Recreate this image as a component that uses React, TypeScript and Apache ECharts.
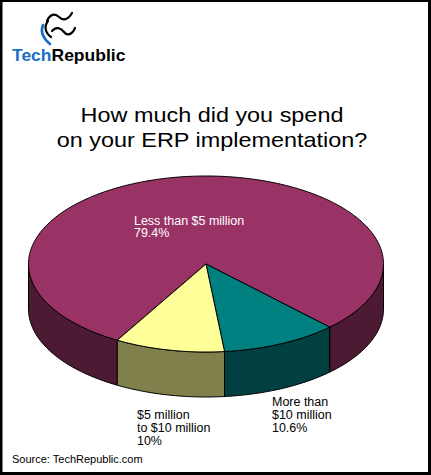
import React, { useEffect, useRef } from 'react';
import * as echarts from 'echarts';

// ---- data ----
const categories = ['Less than $5 million', 'More than $10 million', '$5 million to $10 million'];
const labelLines = [['Less than $5 million'], ['More than', '$10 million'], ['$5 million', 'to $10 million']];
const values = [79.4, 10.6, 10];
const titleLines = ['How much did you spend', 'on your ERP implementation?'];
const sourceText = 'Source: TechRepublic.com';

// ---- styles ----
const topColors = ['#993366', '#008080', '#FFFF99'];
const sideColors = ['#4C1A33', '#004040', '#80804C'];
const FONT = '"Liberation Sans", Arial, Helvetica, sans-serif';
const PIE = { cx: 206, cy: 264, rx: 177.5, ry: 88, depth: 45, start: 120 };
const labelPos = [
  { x: 134, y: 215.5, lh: 12, color: '#ffffff' },
  { x: 272, y: 396, lh: 13, color: '#000000' },
  { x: 137, y: 408.3, lh: 13, color: '#000000' },
];

const WAVE_D =
  'M47,21 C50,14 55,13 59,17 C63,21 68,20 72,13 M48,21 C44,26 45,33 51,37 M52,31 C56,26 61,28 64,32 C67,36 72,35 75,28';
const SWOOSH_D = 'M43,25 C40,32 44,39 50,44';

function fmtPct(v: number) {
  return `${v}%`;
}

export default function App() {
  const ref = useRef<HTMLDivElement>(null);
  useEffect(() => {
    if (!ref.current) return;
    try {
      echarts.graphic.registerShape('trWave', echarts.graphic.extendPath(WAVE_D, {}));
      echarts.graphic.registerShape('trSwoosh', echarts.graphic.extendPath(SWOOSH_D, {}));
    } catch (e) {}
    const chart = echarts.init(ref.current, undefined, { renderer: 'svg' });
    const total = values.reduce((a, b) => a + b, 0);

    const pt = (a: number, dy: number) => {
      const r = (a * Math.PI) / 180;
      return [PIE.cx + PIE.rx * Math.cos(r), PIE.cy + PIE.ry * Math.sin(r) + dy];
    };
    const arc = (s: number, e: number, dy: number) => {
      const n = Math.max(2, Math.ceil(e - s));
      const pts: number[][] = [];
      for (let k = 0; k <= n; k++) pts.push(pt(s + ((e - s) * k) / n, dy));
      return pts;
    };

    const renderItem = (params: any, api: any) => {
      const i = params.dataIndex;
      let a0 = PIE.start;
      for (let j = 0; j < i; j++) a0 += (values[j] / total) * 360;
      const a1 = a0 + (api.value(0) / total) * 360;
      const children: any[] = [];
      for (const k of [0, 360]) {
        const s = Math.max(a0, k);
        const e = Math.min(a1, k + 180);
        if (e > s) {
          const top = arc(s, e, 0);
          const bot = arc(s, e, PIE.depth).reverse();
          children.push({
            type: 'polygon',
            shape: { points: top.concat(bot) },
            style: { fill: sideColors[i], stroke: '#000', lineWidth: 1 },
          });
        }
      }
      children.push({
        type: 'polygon',
        shape: { points: [[PIE.cx, PIE.cy], ...arc(a0, a1, 0)] },
        style: { fill: topColors[i], stroke: '#000', lineWidth: 1 },
      });
      return { type: 'group', children };
    };

    const labels = values.map((v, i) => ({
      type: 'text',
      x: labelPos[i].x,
      y: labelPos[i].y,
      scaleX: 1.04,
      z: 10,
      style: {
        text: [...labelLines[i], fmtPct(v)].join('\n'),
        fill: labelPos[i].color,
        font: `12px ${FONT}`,
        lineHeight: labelPos[i].lh,
        textAlign: 'left',
        textVerticalAlign: 'top',
        verticalAlign: 'top',
      },
    }));

    chart.setOption({
      animation: false,
      backgroundColor: '#ffffff',
      series: [
        {
          type: 'custom',
          coordinateSystem: 'none',
          silent: true,
          data: values.map((v, i) => ({ value: v, name: categories[i] })),
          renderItem,
        },
      ],
      graphic: [
        { type: 'rect', shape: { x: 0, y: 0, width: 431, height: 2 }, style: { fill: '#000' } },
        { type: 'rect', shape: { x: 0, y: 0, width: 2.5, height: 475 }, style: { fill: '#000' } },
        { type: 'rect', shape: { x: 428, y: 0, width: 3, height: 475 }, style: { fill: '#000' } },
        { type: 'rect', shape: { x: 0, y: 472, width: 431, height: 3 }, style: { fill: '#000' } },
        {
          type: 'trWave',
          x: 0,
          y: 0,
          style: { fill: 'none', stroke: '#000', lineWidth: 2.2, lineCap: 'round' },
        },
        {
          type: 'trSwoosh',
          x: 0,
          y: 0,
          style: { fill: 'none', stroke: '#1a6ec6', lineWidth: 2.6, lineCap: 'round' },
        },
        {
          type: 'text',
          x: 12,
          y: 46.4,
          scaleX: 1.06,
          style: {
            text: '{a|Tech}{b|Republic}',
            font: `bold 16.5px ${FONT}`,
            lineHeight: 18,
            verticalAlign: 'top',
            rich: {
              a: { fill: '#1a6ec6', font: `bold 16.5px ${FONT}`, lineHeight: 18 },
              b: { fill: '#000000', font: `bold 16.5px ${FONT}`, lineHeight: 18 },
            },
          },
        },
        {
          type: 'text',
          x: 212,
          y: 102,
          scaleX: 1.115,
          style: {
            text: titleLines.join('\n'),
            fill: '#000',
            font: `21px ${FONT}`,
            lineHeight: 25,
            textAlign: 'center',
            verticalAlign: 'top',
          },
        },
        ...labels,
        {
          type: 'text',
          x: 12,
          y: 453.7,
          style: {
            text: sourceText,
            fill: '#000',
            font: `11px ${FONT}`,
            lineHeight: 11,
            textAlign: 'left',
            verticalAlign: 'top',
          },
        },
      ],
    });
    return () => chart.dispose();
  }, []);
  return (
    <div
      ref={ref}
      style={{ position: 'absolute', left: 0, top: 0, width: 431, height: 475 }}
    />
  );
}
